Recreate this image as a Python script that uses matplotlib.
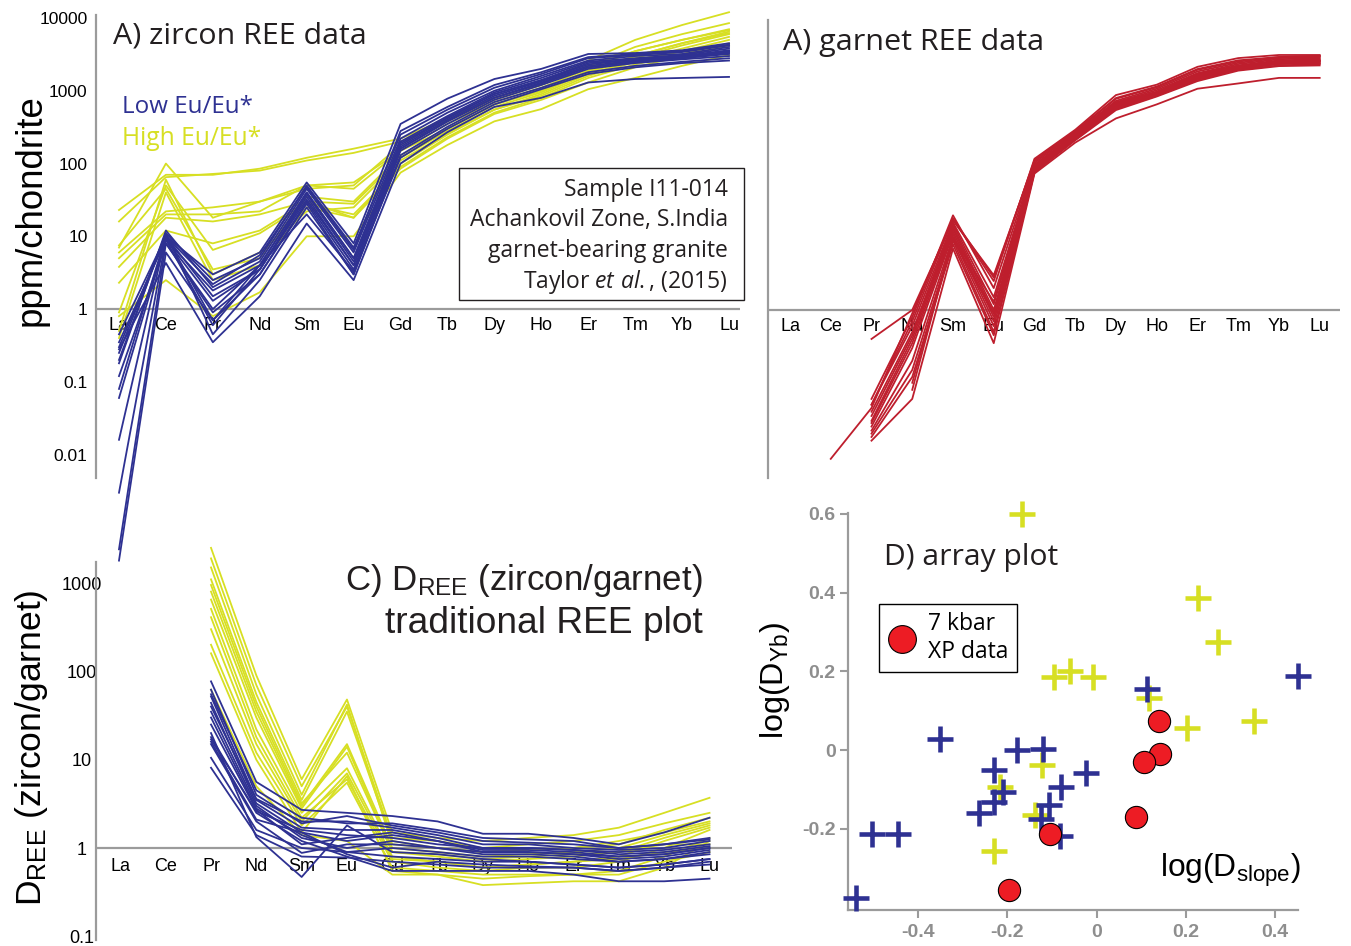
import numpy as np
import matplotlib
matplotlib.use("Agg")
import matplotlib.pyplot as plt
from matplotlib.patches import Rectangle
from matplotlib.lines import Line2D
from matplotlib.ticker import NullLocator

plt.rcParams['mathtext.fontset'] = 'custom'
plt.rcParams['mathtext.rm'] = 'Open Sans'
plt.rcParams['mathtext.it'] = 'Open Sans:italic'
plt.rcParams['mathtext.bf'] = 'Open Sans:bold'

nan = np.nan
elements = ['La', 'Ce', 'Pr', 'Nd', 'Sm', 'Eu', 'Gd', 'Tb', 'Dy', 'Ho', 'Er', 'Tm', 'Yb', 'Lu']

# ---- A) zircon REE (ppm/chondrite) ----
zircon_low_eu = [
    [0.30, 10, 3.0, 6.0, 55, 8.0, 350, 780, 1450, 2000, 3200, 3300, 3600, 4500],
    [0.25, 11, 2.5, 5.0, 50, 7.0, 250, 550, 1100, 1700, 2800, 3100, 3400, 4200],
    [0.18, 12, 2.0, 4.5, 45, 6.0, 220, 500, 1000, 1600, 2600, 3000, 3200, 4000],
    [0.06, 9, 1.8, 4.0, 40, 5.0, 200, 450, 950, 1500, 2500, 2800, 3100, 3800],
    [0.016, 10, 1.5, 3.5, 38, 4.5, 180, 420, 900, 1400, 2300, 2700, 3000, 3600],
    [0.003, 9, 1.3, 3.5, 35, 4.0, 170, 400, 850, 1350, 2200, 2600, 2900, 3400],
    [0.0005, 8, 0.9, 3.0, 30, 3.5, 160, 380, 800, 1300, 2100, 2500, 2800, 3200],
    [0.00035, 6, 0.7, 3.0, 28, 3.0, 150, 350, 750, 1200, 2000, 2400, 2700, 3000],
    [0.45, 10, 0.7, 4.0, 40, 5.0, 190, 430, 900, 1400, 2400, 2700, 3000, 3500],
    [0.35, 9, 0.6, 3.5, 32, 4.0, 160, 380, 800, 1250, 2100, 2500, 2800, 3300],
    [0.28, 4.3, 0.35, 1.5, 15, 2.5, 100, 270, 600, 800, 1300, 1450, 1500, 1550],
    [0.20, 11, 0.45, 2.5, 25, 3.0, 130, 320, 700, 1100, 1800, 2200, 2500, 2800],
    [0.12, 8, 1.0, 4.0, 20, 3.3, 120, 300, 650, 1050, 1700, 2100, 2400, 2600],
    [0.08, 10, 2.2, 5.5, 48, 6.5, 280, 600, 1200, 1800, 2900, 3200, 3500, 4300],
]
zircon_high_eu = [
    [23, 70, 70, 85, 120, 160, 220, 420, 800, 1250, 2600, 5000, 8000, 12000],
    [16, 65, 72, 80, 110, 140, 200, 380, 750, 1200, 2200, 4000, 6000, 8500],
    [7.0, 100, 18, 30, 50, 55, 150, 350, 700, 1100, 2000, 3500, 5000, 7000],
    [6.0, 22, 25, 30, 45, 50, 180, 400, 800, 1200, 2200, 3500, 5000, 6800],
    [5.0, 20, 20, 22, 50, 45, 150, 300, 650, 1000, 1900, 3000, 4500, 6200],
    [3.8, 18, 16, 20, 30, 28, 120, 280, 600, 950, 1800, 2800, 4200, 6000],
    [2.3, 12, 8.0, 12, 30, 18, 100, 250, 550, 900, 1700, 2600, 3800, 5500],
    [0.9, 50, 6.5, 11, 28, 20, 90, 230, 500, 800, 1500, 2300, 3200, 4500],
    [0.5, 60, 3.0, 6.0, 22, 25, 110, 260, 550, 850, 1600, 2500, 3500, 5000],
    [0.8, 2.5, 0.8, 1.7, 10, 10, 75, 180, 380, 560, 1050, 1500, 2200, 3100],
    [7.5, 45, 3.5, 5.0, 35, 30, 130, 300, 650, 1000, 1800, 3000, 4500, 6500],
    [0.4, 40, 2.5, 4.0, 25, 18, 85, 220, 480, 750, 1300, 2100, 3000, 4200],
]

# ---- B) garnet REE (ppm/chondrite) ----
garnet = [
    [nan, 0.009, 0.045, 0.9, 18, 2.5, 120, 300, 900, 1250, 2200, 2900, 3200, 3200],
    [nan, nan, 0.4, 1.0, 17, 3.0, 110, 280, 800, 1150, 2000, 2600, 3000, 3100],
    [nan, nan, 0.06, 0.8, 20, 2.0, 105, 270, 750, 1100, 1900, 2500, 2900, 3000],
    [nan, nan, 0.05, 0.6, 16, 1.5, 100, 260, 720, 1050, 1800, 2400, 2800, 2900],
    [nan, nan, 0.04, 0.5, 15, 1.2, 95, 250, 700, 1000, 1750, 2300, 2700, 2800],
    [nan, nan, 0.035, 0.45, 14, 1.0, 95, 245, 680, 980, 1700, 2250, 2600, 2700],
    [nan, nan, 0.03, 0.4, 13, 0.9, 90, 240, 660, 960, 1650, 2200, 2550, 2650],
    [nan, nan, 0.028, 0.35, 12, 0.8, 88, 235, 640, 940, 1600, 2150, 2500, 2600],
    [nan, nan, 0.025, 0.3, 11, 0.7, 85, 230, 620, 920, 1550, 2100, 2450, 2500],
    [nan, nan, 0.022, 0.2, 10, 0.6, 82, 225, 600, 900, 1500, 2050, 2400, 2450],
    [nan, nan, 0.02, 0.15, 9, 0.5, 80, 220, 580, 880, 1450, 2000, 2300, 2400],
    [nan, nan, 0.018, 0.12, 8, 0.45, 78, 215, 560, 860, 1400, 1950, 2250, 2300],
    [nan, nan, 0.016, 0.06, 7, 0.35, 75, 200, 430, 670, 1100, 1300, 1550, 1550],
    [nan, nan, nan, 0.08, 10, 1.3, 92, 250, 690, 990, 1700, 2250, 2600, 2700],
    [nan, nan, nan, 0.1, 9.5, 0.9, 86, 235, 640, 950, 1600, 2150, 2450, 2600],
    [nan, nan, 0.05, 0.7, 18, 2.8, 115, 290, 820, 1180, 2050, 2700, 3000, 3100],
]

# ---- C) D_REE zircon/garnet ----
d_high_eu = [
    [nan, nan, 2500, 90, 6.0, 48, 1.5, 1.3, 1.2, 1.3, 1.4, 1.7, 2.5, 3.7],
    [nan, nan, 1900, 70, 5.0, 40, 1.3, 1.2, 1.0, 1.1, 1.2, 1.4, 1.9, 2.5],
    [nan, nan, 1100, 45, 3.5, 35, 1.2, 1.0, 0.9, 0.95, 1.0, 1.2, 1.5, 2.0],
    [nan, nan, 800, 35, 3.0, 15, 1.0, 0.9, 0.8, 0.85, 0.9, 1.0, 1.4, 1.9],
    [nan, nan, 650, 30, 2.8, 14, 0.9, 0.8, 0.7, 0.75, 0.8, 0.9, 1.3, 1.8],
    [nan, nan, 510, 22, 2.5, 8.0, 0.8, 0.7, 0.6, 0.65, 0.7, 0.8, 1.2, 1.7],
    [nan, nan, 410, 18, 2.2, 6.0, 0.7, 0.6, 0.55, 0.6, 0.6, 0.7, 1.0, 1.6],
    [nan, nan, 200, 12, 1.8, 5.5, 0.6, 0.55, 0.5, 0.5, 0.5, 0.55, 0.8, 1.3],
    [nan, nan, 160, 10, 1.5, 6.5, 0.55, 0.5, 0.38, 0.4, 0.42, 0.42, 0.6, 1.2],
    [nan, nan, 1500, 55, 4.0, 42, 1.1, 1.0, 0.9, 0.95, 1.0, 1.1, 1.6, 2.2],
    [nan, nan, 950, 40, 3.2, 12, 0.9, 0.85, 0.75, 0.8, 0.85, 0.9, 1.1, 1.1],
    [nan, nan, 300, 15, 2.0, 7.0, 0.75, 0.7, 0.6, 0.65, 0.7, 0.75, 0.9, 1.0],
    [nan, nan, 62, 5.0, 1.4, 1.2, 0.5, 0.5, 0.45, 0.48, 0.5, 0.5, 0.7, 0.9],
]
d_low_eu = [
    [nan, nan, 77, 5.6, 2.7, 2.5, 2.3, 2.0, 1.45, 1.45, 1.3, 1.1, 1.5, 2.2],
    [nan, nan, 62, 4.0, 1.9, 2.3, 1.8, 1.5, 1.2, 1.15, 1.1, 1.0, 1.1, 1.3],
    [nan, nan, 52, 3.5, 1.7, 1.6, 1.6, 1.3, 1.0, 1.0, 0.95, 0.9, 0.95, 1.1],
    [nan, nan, 44, 3.2, 1.5, 1.2, 1.4, 1.2, 0.95, 0.95, 0.9, 0.8, 0.85, 1.0],
    [nan, nan, 35, 3.0, 1.3, 1.0, 1.2, 1.0, 0.9, 0.9, 0.85, 0.75, 0.8, 0.95],
    [nan, nan, 30, 2.8, 1.4, 0.9, 1.0, 0.9, 0.8, 0.8, 0.75, 0.7, 0.75, 0.85],
    [nan, nan, 20, 1.33, 0.47, 1.8, 0.9, 0.85, 0.75, 0.7, 0.65, 0.6, 0.65, 0.75],
    [nan, nan, 18, 2.5, 1.2, 0.8, 0.55, 0.55, 0.55, 0.55, 0.5, 0.42, 0.42, 0.45],
    [nan, nan, 17, 2.6, 1.6, 1.4, 1.3, 1.1, 1.0, 1.0, 0.95, 0.85, 0.9, 1.05],
    [nan, nan, 15, 2.0, 0.88, 1.1, 1.1, 1.0, 0.85, 0.85, 0.8, 0.7, 0.75, 0.9],
    [nan, nan, 10.5, 1.6, 1.0, 0.9, 0.8, 0.75, 0.7, 0.7, 0.65, 0.6, 0.65, 0.75],
    [nan, nan, 8.1, 1.4, 0.8, 0.78, 0.7, 0.65, 0.6, 0.6, 0.6, 0.55, 0.6, 0.7],
    [nan, nan, 40, 3.6, 2.0, 2.0, 1.7, 1.4, 1.1, 1.1, 1.0, 0.95, 1.0, 1.2],
    [nan, nan, 25, 2.7, 1.1, 1.3, 1.5, 1.2, 0.9, 0.9, 0.85, 0.8, 0.85, 1.0],
    [nan, nan, 55, 4.5, 2.2, 1.9, 1.9, 1.6, 1.3, 1.25, 1.2, 1.0, 1.1, 1.25],
    [nan, nan, 16, 2.1, 1.5, 0.85, 0.6, 0.7, 0.65, 0.62, 0.6, 0.55, 0.6, 0.65],
]

# ---- D) array plot ----
high_eu_slope = [-0.167, 0.227, 0.272, -0.096, -0.060, -0.009, 0.118, 0.202, 0.352, -0.122, -0.217, -0.137, -0.230]
high_eu_yb = [0.600, 0.385, 0.274, 0.186, 0.200, 0.186, 0.132, 0.055, 0.075, -0.038, -0.094, -0.166, -0.255]
low_eu_slope = [0.452, 0.112, -0.350, -0.179, -0.120, -0.230, -0.024, -0.080, -0.210, -0.229, -0.264,
                -0.107, -0.124, -0.082, -0.502, -0.444, -0.538]
low_eu_yb = [0.187, 0.155, 0.027, 0.000, 0.004, -0.051, -0.058, -0.094, -0.106, -0.132, -0.160,
             -0.140, -0.174, -0.217, -0.213, -0.213, -0.376]
xp_slope = [0.139, 0.143, 0.107, 0.088, -0.104, -0.197]
xp_yb = [0.075, -0.009, -0.030, -0.169, -0.213, -0.356]

log_ticks = [0.01, 0.1, 1, 10, 100, 1000, 10000]
log_labels = ['0.01', '0.1', '1', '10', '100', '1000', '10000']
d_ticks = [0.1, 1, 10, 100, 1000]
d_labels = ['0.1', '1', '10', '100', '1000']
arr_xticks = [-0.4, -0.2, 0, 0.2, 0.4]
arr_xlabels = ['-0.4', '-0.2', '0', '0.2', '0.4']
arr_yticks = [-0.2, 0, 0.2, 0.4, 0.6]
arr_ylabels = ['-0.2', '0', '0.2', '0.4', '0.6']

# ---------------------------------------------------------------
W, H = 1351, 946
BLUE = '#2E3192'
YELLOW = '#D7DF23'
GARNET_RED = '#BE1E2D'
XP_RED = '#ED1C24'
GRAY = '#9B9B9B'
TITLE_FONT = 'Open Sans'
ARIAL = 'Liberation Sans'
NARROW = ['Liberation Sans Narrow', 'Liberation Sans']

fig = plt.figure(figsize=(W / 100, H / 100), dpi=100)
renderer = fig.canvas.get_renderer()


def px_axes(l, t, r, b):
    return fig.add_axes([l / W, 1 - b / H, (r - l) / W, (b - t) / H])


def place(x, y, s, target=None, dim='w', **kw):
    t = fig.text(x / W, 1 - y / H, s, **kw)
    if target:
        bb = t.get_window_extent(renderer)
        cur = bb.width if dim == 'w' else bb.height
        t.set_fontsize(t.get_fontsize() * target / cur)
    return t


def ree_axes(box, xlim, ylim, yticks, ylabels, lab_off, cat_family, tick_fs, tick_family, tick_pad, tick_ha):
    ax = px_axes(*box)
    ax.set_yscale('log')
    ax.set_xlim(*xlim)
    ax.set_ylim(*ylim)
    for s in ['top', 'right', 'bottom']:
        ax.spines[s].set_visible(False)
    ax.spines['left'].set_color(GRAY)
    ax.spines['left'].set_linewidth(1.6)
    ax.axhline(1, color=GRAY, lw=1.6, zorder=1)
    ax.set_xticks([])
    ax.yaxis.set_minor_locator(NullLocator())
    ax.set_yticks(yticks)
    ax.set_yticklabels(ylabels)
    ax.tick_params(axis='y', length=0, pad=tick_pad, labelsize=tick_fs)
    for lab in ax.get_yticklabels():
        lab.set_family(tick_family)
        lab.set_ha(tick_ha)
    for i, el in enumerate(elements):
        ax.annotate(el, xy=(i, 1), xytext=(0, -lab_off), textcoords='offset pixels',
                    ha='center', va='center', fontsize=13, family=cat_family,
                    annotation_clip=False, zorder=2)
    ax.patch.set_visible(False)
    return ax


x_idx = np.arange(len(elements))

# ---------------- Panel A: zircon ----------------
axA = ree_axes((96, 15, 740, 478), (-0.490, 13.234), (10 ** -2.321, 10 ** 4.041),
               log_ticks, log_labels, 16, ARIAL, 12.5, ARIAL, 6, 'right')
for v in zircon_high_eu:
    axA.plot(x_idx, v, color=YELLOW, lw=1.3, clip_on=False, zorder=3)
for v in zircon_low_eu:
    axA.plot(x_idx, v, color=BLUE, lw=1.3, clip_on=False, zorder=4)

# ---------------- Panel B: garnet ----------------
axB = ree_axes((768, 20, 1340, 478), (-0.540, 13.498), (10 ** -2.309, 10 ** 3.986),
               [], [], 16, ARIAL, 12.5, ARIAL, 6, 'right')
for v in garnet:
    axB.plot(x_idx, v, color=GARNET_RED, lw=1.3, clip_on=False, zorder=3)

# ---------------- Panel C: D_REE ----------------
axC = ree_axes((96, 562, 732, 940), (-0.538, 13.496), (10 ** -1.0415, 10 ** 3.238),
               d_ticks, d_labels, 18, NARROW, 13, NARROW, 10, 'center')
for v in d_high_eu:
    axC.plot(x_idx, v, color=YELLOW, lw=1.3, clip_on=False, zorder=3)
for v in d_low_eu:
    axC.plot(x_idx, v, color=BLUE, lw=1.3, clip_on=False, zorder=4)

# ---------------- Panel D: array plot ----------------
axD = px_axes(848, 513, 1298, 910)
axD.set_xlim(-0.5565, 0.451)
axD.set_ylim(-0.406, 0.602)
for s in ['top', 'right']:
    axD.spines[s].set_visible(False)
for s in ['left', 'bottom']:
    axD.spines[s].set_color(GRAY)
    axD.spines[s].set_linewidth(1.6)
axD.set_xticks(arr_xticks)
axD.set_xticklabels(arr_xlabels)
axD.set_yticks(arr_yticks)
axD.set_yticklabels(arr_ylabels)
axD.tick_params(direction='out', length=6, width=1.5, color=GRAY, labelcolor='#8E8E8E', labelsize=14)
axD.tick_params(axis='x', pad=4)
axD.tick_params(axis='y', pad=3)
for lab in axD.get_xticklabels() + axD.get_yticklabels():
    lab.set_fontweight('bold')
    lab.set_family(ARIAL)
axD.patch.set_visible(False)
axD.plot(high_eu_slope, high_eu_yb, ls='none', marker='+', ms=19, mew=3.3, color=YELLOW, clip_on=False, zorder=3)
axD.plot(low_eu_slope, low_eu_yb, ls='none', marker='+', ms=19, mew=3.3, color=BLUE, clip_on=False, zorder=4)
axD.plot(xp_slope, xp_yb, ls='none', marker='o', ms=16, mfc=XP_RED, mec='black', mew=0.8,
         clip_on=False, zorder=5)

handle = Line2D([], [], ls='none', marker='o', ms=20, mfc=XP_RED, mec='black', mew=0.8)
leg = axD.legend([handle], ['7 kbar\nXP data'], loc='upper left',
                 bbox_to_anchor=(879 / W, 1 - 604 / H), bbox_transform=fig.transFigure,
                 borderaxespad=0, frameon=True, fancybox=False, framealpha=1,
                 edgecolor='black', borderpad=0.35, handlelength=1.3, handletextpad=0.5,
                 prop={'family': TITLE_FONT, 'size': 16.5})
leg.get_frame().set_linewidth(1.0)

# ---------------- Texts ----------------
place(31, 210, 'ppm/chondrite', target=232, dim='h', rotation=90, ha='center', va='center',
      family=ARIAL, fontsize=24)
place(113, 43, 'A) zircon REE data', target=253, ha='left', va='baseline', family=TITLE_FONT,
      fontsize=20, color='#231F20')
place(783, 50, 'A) garnet REE data', target=260, ha='left', va='baseline', family=TITLE_FONT,
      fontsize=20, color='#231F20')
place(122, 113, 'Low Eu/Eu*', target=131, ha='left', va='baseline', family=TITLE_FONT,
      fontsize=18, color=BLUE)
place(122, 145, 'High Eu/Eu*', target=140, ha='left', va='baseline', family=TITLE_FONT,
      fontsize=18, color=YELLOW)

# sample box
fig.patches.append(Rectangle((459 / W, 1 - 300 / H), (744 - 459) / W, (300 - 168) / H,
                             transform=fig.transFigure, facecolor='white', edgecolor='#231F20',
                             lw=1.0, zorder=6))
t2 = place(728, 226, 'Achankovil Zone, S.India', target=258, ha='right', va='baseline',
           family=TITLE_FONT, fontsize=15, color='#231F20', zorder=7)
box_fs = t2.get_fontsize()
place(728, 196, 'Sample I11-014', ha='right', va='baseline', family=TITLE_FONT, fontsize=box_fs,
      color='#231F20', zorder=7)
place(728, 257, 'garnet-bearing granite', ha='right', va='baseline', family=TITLE_FONT,
      fontsize=box_fs, color='#231F20', zorder=7)
place(728, 288, r'Taylor $\mathit{et\ al.}$, (2015)', ha='right', va='baseline', family=TITLE_FONT,
      fontsize=box_fs, color='#231F20', zorder=7)

# panel C texts
place(32, 748, r'D$\mathregular{_{REE}}$ (zircon/garnet)', target=317, dim='h', rotation=90,
      ha='center', va='center', family=ARIAL, fontsize=24)
place(703, 590, r'C) D$\mathregular{_{REE}}$ (zircon/garnet)', target=358, ha='right', va='baseline',
      family=NARROW, fontsize=24, color='#231F20')
place(703, 633, 'traditional REE plot', target=318, ha='right', va='baseline',
      family=NARROW, fontsize=24, color='#231F20')

# panel D texts
place(884, 565, 'D) array plot', target=174, ha='left', va='baseline', family=TITLE_FONT,
      fontsize=20, color='#231F20')
place(775, 681, r'log(D$\mathregular{_{Yb}}$)', target=117, dim='h', rotation=90, ha='center',
      va='center', family=ARIAL, fontsize=22)
place(1160, 877, r'log(D$\mathregular{_{slope}}$)', target=141, ha='left', va='baseline',
      family=ARIAL, fontsize=22)

fig.savefig('out.png', dpi=100)
